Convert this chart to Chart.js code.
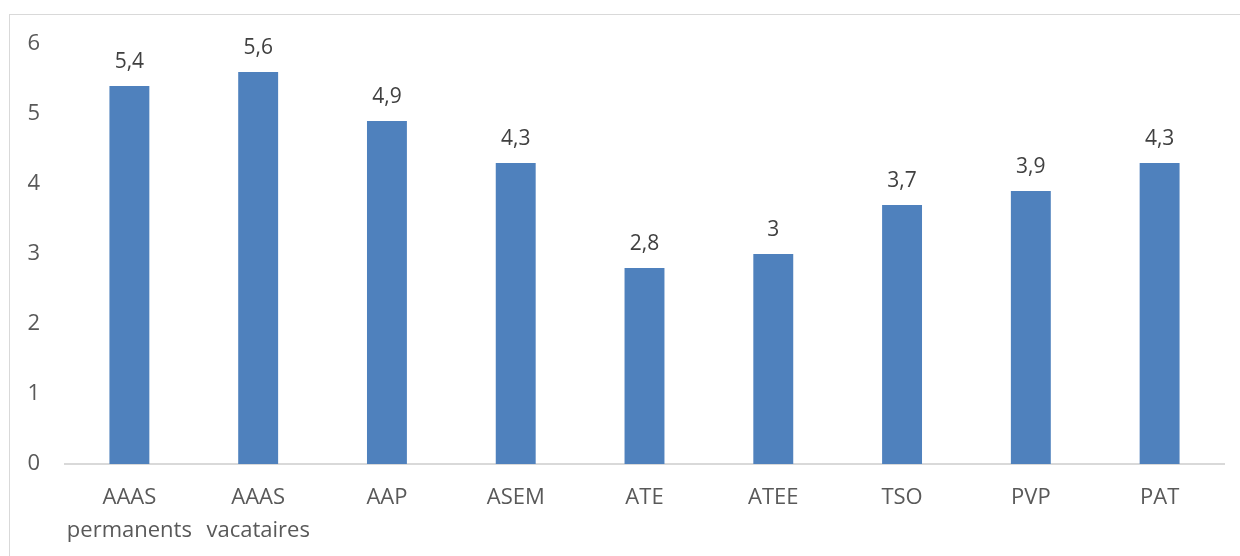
<!DOCTYPE html>
<html>
<head>
<meta charset="utf-8">
<script src="https://cdn.jsdelivr.net/npm/chart.js@4"></script>
<style>
  html, body { margin: 0; padding: 0; background: #fff; }
  #frame { position: absolute; left: 9px; top: 14px; width: 1240px; height: 560px; border: 1px solid #d9d9d9; }
  #wrap { position: absolute; left: 0; top: 0; width: 1240px; height: 556px; }
</style>
</head>
<body>
<div id="frame"></div>
<div id="wrap"><canvas id="chart"></canvas></div>
<script>
const categories = [['AAAS', 'permanents'], ['AAAS', 'vacataires'], 'AAP', 'ASEM', 'ATE', 'ATEE', 'TSO', 'PVP', 'PAT'];
const values = [5.4, 5.6, 4.9, 4.3, 2.8, 3, 3.7, 3.9, 4.3];
const yTicks = [0, 1, 2, 3, 4, 5, 6];

const valueLabels = {
    id: 'valueLabels',
    afterDatasetsDraw(chart) {
        const ctx = chart.ctx;
        ctx.save();
        ctx.font = '21px "Open Sans", sans-serif';
        ctx.fillStyle = '#404040';
        ctx.textAlign = 'center';
        ctx.textBaseline = 'alphabetic';
        chart.getDatasetMeta(0).data.forEach((bar, i) => {
            ctx.fillText(String(values[i]).replace('.', ','), bar.x, bar.y - 18);
        });
        ctx.restore();
    }
};

new Chart(document.getElementById('chart'), {
    type: 'bar',
    data: {
        labels: categories,
        datasets: [{
            data: values,
            backgroundColor: '#4f81bd',
            categoryPercentage: 1,
            barPercentage: 0.31
        }]
    },
    options: {
        responsive: true,
        maintainAspectRatio: false,
        animation: false,
        layout: { padding: { left: 0, right: 16, top: 44, bottom: 12 } },
        plugins: { legend: { display: false }, tooltip: { enabled: false } },
        scales: {
            y: {
                min: 0,
                max: 6,
                afterBuildTicks: axis => { axis.ticks = yTicks.map(v => ({ value: v })); },
                afterFit: axis => { axis.width = 65; axis.paddingTop = 0; axis.paddingBottom = 0; },
                grid: { display: false, drawTicks: false },
                border: { display: false },
                ticks: { color: '#595959', font: { family: 'Open Sans', size: 22 }, padding: 25 }
            },
            x: {
                afterFit: axis => { axis.height = 80; axis.paddingLeft = 0; axis.paddingRight = 0; },
                grid: { display: false, drawTicks: false },
                border: { color: '#d9d9d9', width: 2 },
                ticks: { color: '#595959', font: { family: 'Open Sans', size: 22, lineHeight: 1.5 }, padding: 17, maxRotation: 0, minRotation: 0, autoSkip: false }
            }
        }
    },
    plugins: [valueLabels]
});
</script>
</body>
</html>
